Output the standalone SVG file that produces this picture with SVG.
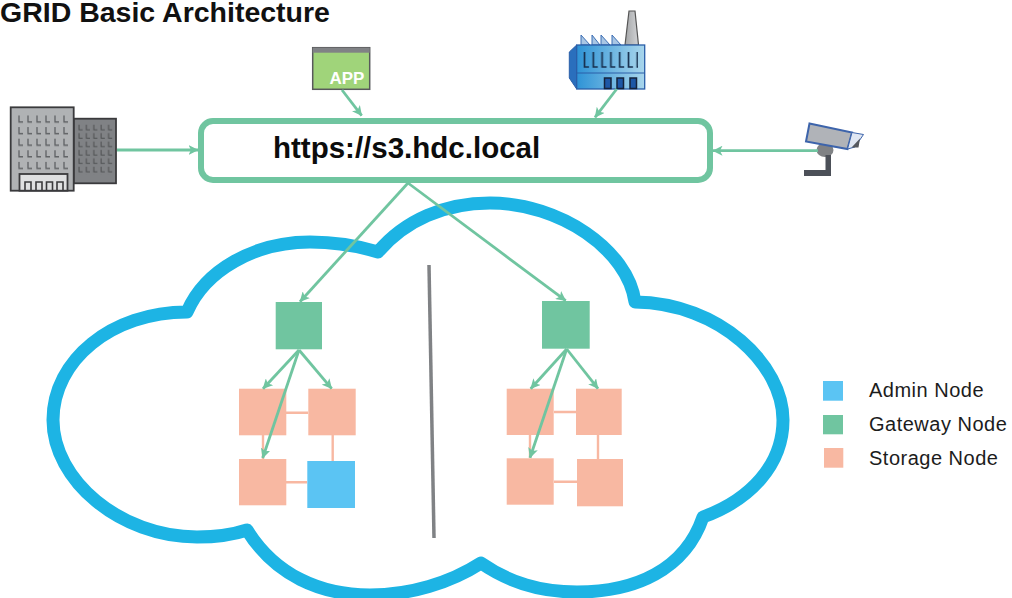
<svg xmlns="http://www.w3.org/2000/svg" width="1012" height="598" viewBox="0 0 1012 598">
<style>
text{font-family:"Liberation Sans",Arial,sans-serif}
.title{font-weight:700;font-size:28.500px;fill:#111}
.url{font-weight:700;font-size:29.500px;fill:#0c0c0c}
.leg{font-size:20px;letter-spacing:.5px;fill:#1c1c1c}
.gw{fill:#70c5a0}
.st{fill:#f8b8a2}
.ad{fill:#5bc4f3}
.link{stroke:#f8b8a2;stroke-width:2.400;fill:none}
.arr{stroke:#70c5a0;stroke-width:2.800;fill:none;marker-end:url(#ah)}
.bd{stroke:#3a3a3c;stroke-width:1.800}
</style>
<defs>
<marker id="ah" viewBox="0 0 10 10" refX="9.500" refY="5" markerWidth="10" markerHeight="10" markerUnits="userSpaceOnUse" orient="auto"><path d="M0 0L10 5L0 10L2.500 5Z" fill="#70c5a0"/></marker>
<pattern id="winF" x="18" y="114.500" width="9" height="11.600" patternUnits="userSpaceOnUse"><path d="M1 1V7.500H5" fill="none" stroke="#5f6164" stroke-width="1.300"/></pattern>
<pattern id="winR" x="78" y="124" width="7.400" height="8.400" patternUnits="userSpaceOnUse"><path d="M1 .8V5.800H4.600" fill="none" stroke="#4c4e50" stroke-width="1"/></pattern>
<pattern id="winK" x="583" y="52" width="8.800" height="20" patternUnits="userSpaceOnUse"><path d="M1.500 0V15H6" fill="none" stroke="#17304f" stroke-width="1.700"/></pattern>
<linearGradient id="fac" x1="0" y1="0" x2="1" y2="0"><stop offset="0" stop-color="#2e93d6"/><stop offset="1" stop-color="#a9d6ec"/></linearGradient>
<linearGradient id="chim" x1="0" y1="0" x2="1" y2="0"><stop offset="0" stop-color="#a4a6a8"/><stop offset="1" stop-color="#d2d3d5"/></linearGradient>
</defs>
<rect width="1012" height="598" fill="#fff"/>
<text class="title" x="0" y="22">GRID Basic Architecture</text>

<g id="cloud"><path d="M187 312C112 312 53 360 53 420C53 480 120 537 197 537C215 537 232 535 247 530C275 575 320 595 370 595C410 595 450 583 481 563C510 583 540 592 577 592C635 592 685 570 703 517C750 500 783 465 783 420C783 365 720 303 635 302C628 250 560 203 490 203C445 203 405 220 378 252C355 245 335 242 310 242C255 242 205 270 187 312Z" fill="none" stroke="#1db4e4" stroke-width="13" stroke-linejoin="round"/></g>
<g id="divider"><line x1="429" y1="265" x2="434" y2="538" stroke="#808285" stroke-width="3.500"/></g>

<g id="links">
<path class="link" d="M286 412.700H308M263 435V459M332.700 435V461M286 482.300H307M554 412H576M530 435V458M598 435V459M554 481.700H577"/>
</g>

<g id="node-building">
<rect class="bd" x="73.700" y="118.700" width="42.300" height="64.600" fill="#808285"/>
<rect x="78" y="124" width="37" height="50.400" fill="url(#winR)"/>
<rect class="bd" x="10.700" y="107.300" width="63" height="83.400" fill="#b0b2b4"/>
<rect x="18" y="114.500" width="54" height="58" fill="url(#winF)"/>
<rect class="bd" x="19.500" y="174" width="48" height="16.700" fill="#dfe0e1"/>
<path d="M25 190.500V182H31V190.500M36 190.500V182H42V190.500M46.500 190.500V182H52.500V190.500M57 190.500V182H63V190.500" fill="none" stroke="#3a3a3c" stroke-width="1.600"/>
</g>

<g id="node-app">
<rect x="312.700" y="47.700" width="57" height="41.600" fill="#a0d47a" stroke="#58595b" stroke-width="1.500"/>
<rect x="312.700" y="47.700" width="57" height="5" fill="#808285"/>
<text x="329.500" y="84" font-size="17" font-weight="700" fill="#fff">APP</text>
</g>

<g id="node-factory">
<path d="M625 45L629 11H635L638.500 45Z" fill="url(#chim)" stroke="#555" stroke-width="1.200"/>
<path d="M581 45V35L590 45ZM592 45V35L600 45ZM601 45V35L610 45ZM612 45V35L621 45Z" fill="#a9c6e4" stroke="#3d6fb4" stroke-width="1"/>
<path d="M576.700 45L569.300 52V78L576.700 89Z" fill="#2a6fbd" stroke="#2a5ea8" stroke-width="1"/>
<rect x="576.700" y="45" width="68" height="44" fill="url(#fac)" stroke="#2a5ea8" stroke-width="1.300"/>
<path d="M576.700 73H644.700" stroke="#2a5ea8" stroke-width="1"/>
<rect x="583" y="52" width="55" height="16" fill="url(#winK)"/>
<path d="M604.500 88.500V78H611V88.500ZM617 88.500V78H623.500V88.500ZM630 88.500V78H636.500V88.500Z" fill="#1d57a6" stroke="#14233c" stroke-width="1.500"/>
</g>

<g id="node-camera">
<ellipse cx="825" cy="150" rx="8.500" ry="7" fill="#808285"/>
<path d="M825.500 155H831V176H804V170H825.500Z" fill="#4c5058"/>
<path d="M809.500 123.500L852 132.500L847.500 149L806 141.500Z" fill="#b0b3b8" stroke="#3d64ab" stroke-width="2"/>
<path d="M852 132.500L863.500 134.500L855 147L847.500 149Z" fill="#dfe6f2" stroke="#3d64ab" stroke-width="1"/>
<path d="M860 138.500L858.500 147.500L851.500 147.500Z" fill="#55585e"/>
</g>

<g id="node-url">
<rect x="201" y="121" width="509" height="59" rx="12" fill="#fff" stroke="#70c5a0" stroke-width="6"/>
<text class="url" x="273" y="158">https://s3.hdc.local</text>
</g>

<g id="node-gw-left"><rect class="gw" x="275.700" y="302" width="46.300" height="47.300"/></g>
<g id="node-gw-right"><rect class="gw" x="542" y="301" width="47.700" height="47.700"/></g>
<g id="node-st-l1"><rect class="st" x="239" y="388.700" width="47.300" height="46.600"/></g>
<g id="node-st-l2"><rect class="st" x="308.300" y="388.700" width="47.400" height="46.600"/></g>
<g id="node-st-l3"><rect class="st" x="239" y="459" width="47.300" height="46.300"/></g>
<g id="node-admin"><rect class="ad" x="307.300" y="461" width="47.700" height="47"/></g>
<g id="node-st-r1"><rect class="st" x="506.700" y="388.700" width="47" height="46.300"/></g>
<g id="node-st-r2"><rect class="st" x="576" y="388.700" width="45.700" height="46.300"/></g>
<g id="node-st-r3"><rect class="st" x="506.700" y="458.300" width="47" height="46.400"/></g>
<g id="node-st-r4"><rect class="st" x="577" y="459" width="46" height="47.300"/></g>

<g id="connectors">
<path class="arr" d="M117 150H198"/>
<path class="arr" d="M342 90L361.700 115.700"/>
<path class="arr" d="M616.700 89L595 117.300"/>
<path class="arr" d="M818 150.700H713"/>
<path class="arr" d="M408 183L300 301.700"/>
<path class="arr" d="M408 183L565.700 300.700"/>
<path class="arr" d="M299 350L263 388.700"/>
<path class="arr" d="M299 350L331.700 388.700"/>
<path class="arr" d="M299 350L262.700 458"/>
<path class="arr" d="M566.700 349L530.700 388.700"/>
<path class="arr" d="M566.700 349L598 388.700"/>
<path class="arr" d="M566.700 349L530 457.700"/>
</g>

<g id="legend-admin"><rect class="ad" x="823" y="381" width="20" height="19.700"/><text class="leg" x="869" y="397">Admin Node</text></g>
<g id="legend-gateway"><rect class="gw" x="823" y="415" width="20" height="19.300"/><text class="leg" x="869" y="431">Gateway Node</text></g>
<g id="legend-storage"><rect class="st" x="824" y="448" width="19.300" height="19.700"/><text class="leg" x="869" y="465">Storage Node</text></g>
</svg>
